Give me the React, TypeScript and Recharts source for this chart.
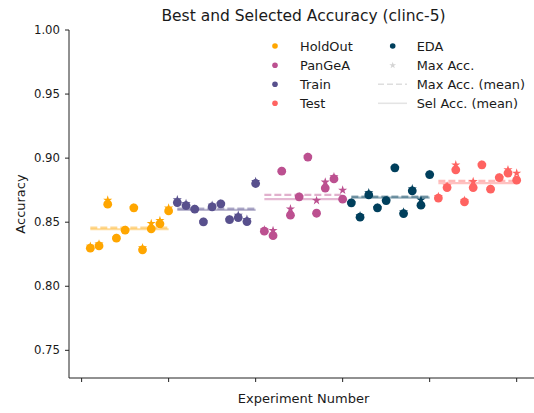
import React from 'react'
import { ScatterChart, Scatter, XAxis, YAxis, ReferenceLine, Legend } from 'recharts'

// groups in the order they appear along the x axis
const groups = ['HoldOut', 'Train', 'PanGeA', 'EDA', 'Test']
const legendOrder = ['HoldOut', 'PanGeA', 'Train', 'Test', 'EDA']
const firstExperiment = [1, 11, 21, 31, 41]

const colors: Record<string, string> = {
  HoldOut: '#ffa600',
  PanGeA: '#bc5090',
  Train: '#58508d',
  Test: '#ff6361',
  EDA: '#003f5c',
}

// selected accuracy (circles) and max accuracy (stars) per experiment
const holdOutSel = [0.8297, 0.8315, 0.8641, 0.8375, 0.8438, 0.8612, 0.8284, 0.8448, 0.8487, 0.8588]
const holdOutMax = [0.8312, 0.833, 0.8672, 0.8375, 0.8438, 0.8612, 0.83, 0.849, 0.8513, 0.861]
const trainSel = [0.8653, 0.863, 0.8602, 0.8502, 0.862, 0.8643, 0.852, 0.8536, 0.8505, 0.8802]
const trainMax = [0.8675, 0.8645, 0.8602, 0.8502, 0.8632, 0.8643, 0.852, 0.8555, 0.8522, 0.8818]
const pangeaSel = [0.843, 0.8395, 0.8898, 0.8555, 0.8698, 0.9008, 0.857, 0.8766, 0.8838, 0.868]
const pangeaMax = [0.844, 0.8435, 0.8898, 0.8604, 0.8698, 0.9008, 0.8669, 0.8813, 0.8855, 0.875]
const edaSel = [0.8651, 0.8539, 0.8713, 0.8612, 0.8669, 0.8924, 0.8567, 0.8745, 0.8633, 0.8872]
const edaMax = [0.8651, 0.855, 0.873, 0.8612, 0.8669, 0.8924, 0.858, 0.876, 0.8674, 0.8872]
const testSel = [0.8688, 0.877, 0.8909, 0.8659, 0.877, 0.8948, 0.8758, 0.8848, 0.8883, 0.8828]
const testMax = [0.87, 0.8782, 0.8947, 0.867, 0.8817, 0.8948, 0.8758, 0.8848, 0.8909, 0.8883]

// group means, same order as groups
const maxMean = [0.8458, 0.8606, 0.8713, 0.87, 0.8823]
const selMean = [0.8445, 0.8596, 0.868, 0.8692, 0.8805]

const yTicks = [0.75, 0.8, 0.85, 0.9, 0.95, 1.0]
const xTicks = [0, 10, 20, 30, 40, 50]

const selByGroup = [holdOutSel, trainSel, pangeaSel, edaSel, testSel]
const maxByGroup = [holdOutMax, trainMax, pangeaMax, edaMax, testMax]

const font = 'DejaVu Sans, sans-serif'
const R = 4.4

const series = groups.map((name, g) => ({
  name,
  color: colors[name],
  start: firstExperiment[g],
  end: firstExperiment[g] + selByGroup[g].length - 1,
  sel: selByGroup[g].map((y, i) => ({ x: firstExperiment[g] + i, y })),
  max: maxByGroup[g].map((y, i) => ({ x: firstExperiment[g] + i, y })),
  maxMean: maxMean[g],
  selMean: selMean[g],
}))

function starPoints(cx: number, cy: number, r: number) {
  const inner = r * 0.382
  const pts: string[] = []
  for (let k = 0; k < 10; k++) {
    const a = -Math.PI / 2 + (k * Math.PI) / 5
    const rr = k % 2 === 0 ? r : inner
    pts.push(`${cx + rr * Math.cos(a)},${cy + rr * Math.sin(a)}`)
  }
  return pts.join(' ')
}

const renderLegend = () => {
  const rows = [16, 35.3, 54.3, 73.3]
  const textStyle = { fontFamily: font, fontSize: 12.9, fill: '#1a1a1a' }
  return (
    <svg width={290} height={90} style={{ overflow: 'visible' }}>
      {legendOrder.slice(0, 4).map((n, i) => (
        <g key={n}>
          <circle cx={25} cy={rows[i]} r={2.8} fill={colors[n]} />
          <text x={50} y={rows[i]} dy="0.36em" style={textStyle}>{n}</text>
        </g>
      ))}
      <circle cx={142.7} cy={rows[0]} r={2.8} fill={colors[legendOrder[4]]} />
      <text x={166.7} y={rows[0]} dy="0.36em" style={textStyle}>{legendOrder[4]}</text>
      <polygon points={starPoints(142.7, rows[1], 3.6)} fill="#d4d4d4" />
      <text x={166.7} y={rows[1]} dy="0.36em" style={textStyle}>Max Acc.</text>
      <line x1={128} x2={157} y1={rows[2]} y2={rows[2]} stroke="#dedede" strokeWidth={1.6} strokeDasharray="6 3" />
      <text x={166.7} y={rows[2]} dy="0.36em" style={textStyle}>Max Acc. (mean)</text>
      <line x1={128} x2={157} y1={rows[3]} y2={rows[3]} stroke="#e4e4e4" strokeWidth={1.6} />
      <text x={166.7} y={rows[3]} dy="0.36em" style={textStyle}>Sel Acc. (mean)</text>
    </svg>
  )
}

export default function App() {
  return (
    <div style={{ position: 'absolute', left: 0, top: 0, width: 534, height: 413, overflow: 'hidden', background: '#fff' }}>
      <svg width={534} height={30} style={{ position: 'absolute', left: 0, top: 0 }}>
        <text x={303.5} y={21} textAnchor="middle" style={{ fontFamily: font, fontSize: 15.5, fill: '#1a1a1a' }}>
          Best and Selected Accuracy (clinc-5)
        </text>
      </svg>
      <div style={{ position: 'absolute', left: 0, top: 0 }}>
        <ScatterChart width={538} height={413} margin={{ top: 30, right: 0, bottom: 0, left: 0 }}>
          <XAxis
            type="number"
            dataKey="x"
            domain={[-1.45, 52.45]}
            allowDataOverflow
            ticks={xTicks}
            tickFormatter={() => ''}
            height={35}
            tickSize={4}
            axisLine={{ stroke: '#222', strokeWidth: 1 }}
            tickLine={{ stroke: '#222', strokeWidth: 1 }}
            label={{
              content: () => (
                <text x={303.5} y={403} textAnchor="middle" style={{ fontFamily: font, fontSize: 13, fill: '#1a1a1a' }}>
                  Experiment Number
                </text>
              ),
            }}
          />
          <YAxis
            type="number"
            dataKey="y"
            domain={[0.7284, 1.0]}
            allowDataOverflow
            ticks={yTicks}
            tickFormatter={(v: number) => v.toFixed(2)}
            width={69}
            tickSize={4}
            tickMargin={5}
            axisLine={{ stroke: '#222', strokeWidth: 1 }}
            tickLine={{ stroke: '#222', strokeWidth: 1 }}
            tick={{ fontFamily: font, fontSize: 11.7, fill: '#1a1a1a' }}
            label={{
              content: () => (
                <text
                  x={24.5}
                  y={204}
                  transform="rotate(-90 24.5 204)"
                  textAnchor="middle"
                  style={{ fontFamily: font, fontSize: 13, fill: '#1a1a1a' }}
                >
                  Accuracy
                </text>
              ),
            }}
          />
          {series.map(s => (
            <ReferenceLine
              key={s.name + '-max'}
              segment={[{ x: s.start, y: s.maxMean }, { x: s.end, y: s.maxMean }]}
              stroke={s.color}
              strokeOpacity={0.45}
              strokeWidth={2.2}
              strokeDasharray="7 3"
              ifOverflow="visible"
            />
          ))}
          {series.map(s => (
            <ReferenceLine
              key={s.name + '-sel'}
              segment={[{ x: s.start, y: s.selMean }, { x: s.end, y: s.selMean }]}
              stroke={s.color}
              strokeOpacity={0.4}
              strokeWidth={2.2}
              ifOverflow="visible"
            />
          ))}
          {series.map(s => (
            <Scatter
              key={s.name + '-star'}
              name={s.name + ' max'}
              data={s.max}
              isAnimationActive={false}
              shape={(p: any) => <polygon points={starPoints(p.cx, p.cy, R + 0.4)} fill={s.color} />}
            />
          ))}
          {series.map(s => (
            <Scatter
              key={s.name}
              name={s.name}
              data={s.sel}
              isAnimationActive={false}
              shape={(p: any) => <circle cx={p.cx} cy={p.cy} r={R} fill={s.color} />}
            />
          ))}
          <Legend
            content={renderLegend}
            layout="vertical"
            align="center"
            verticalAlign="middle"
            wrapperStyle={{ position: 'absolute', left: 250, top: 30, width: 290, height: 90 }}
          />
        </ScatterChart>
      </div>
    </div>
  )
}
